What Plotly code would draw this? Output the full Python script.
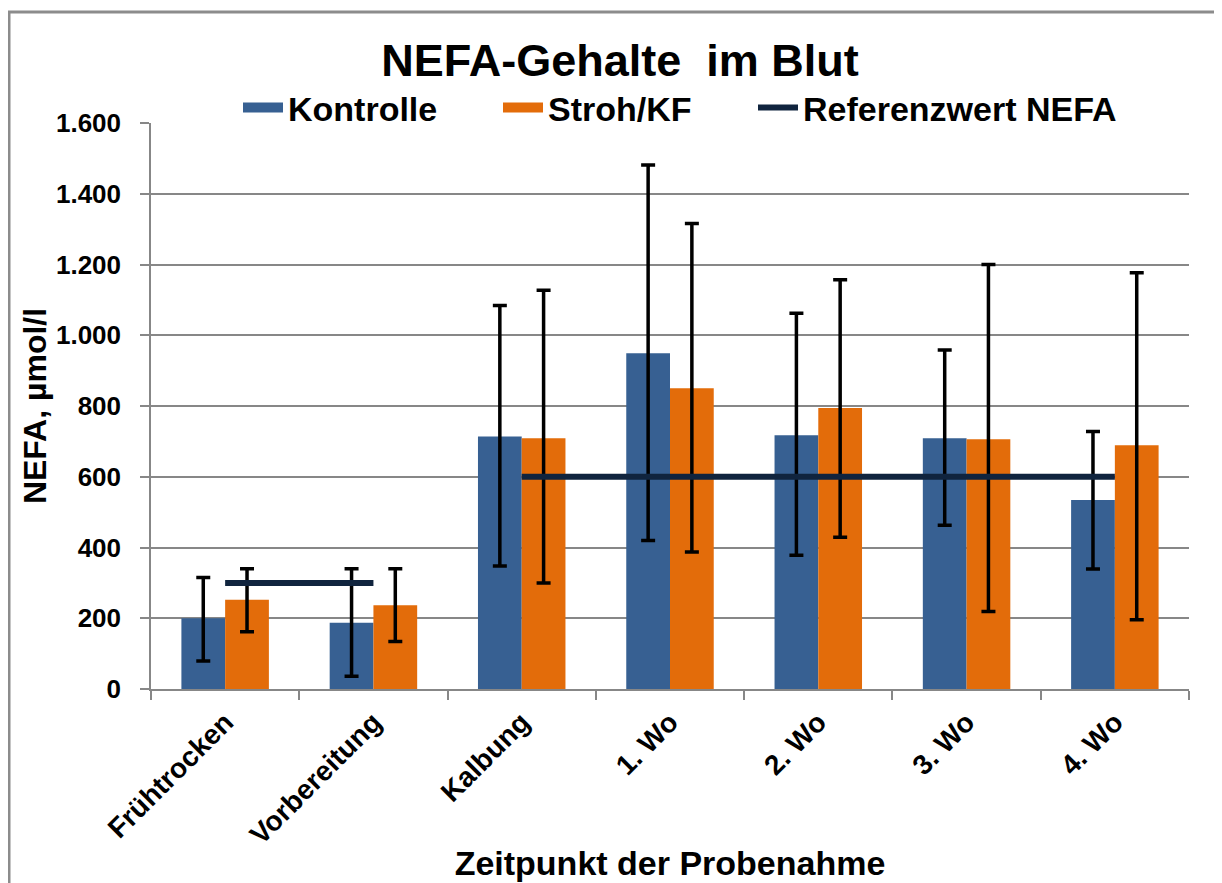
import plotly.graph_objects as go

categories = ["Frühtrocken", "Vorbereitung", "Kalbung", "1. Wo", "2. Wo", "3. Wo", "4. Wo"]
kontrolle = [200, 187, 714, 949, 717, 709, 534]
kontrolle_err_plus = [115, 153, 370, 532, 345, 249, 194]
kontrolle_err_minus = [121, 151, 366, 529, 339, 246, 195]
stroh = [252, 237, 709, 850, 794, 706, 689]
stroh_err_plus = [88, 103, 418, 466, 363, 494, 488]
stroh_err_minus = [90, 103, 409, 463, 365, 487, 493]
referenz = [300, 300, 600, 600, 600, 600, 600]
y_ticks = [0, 200, 400, 600, 800, 1000, 1200, 1400, 1600]

FONT = "Liberation Sans, Arial, sans-serif"
BLUE = "#376092"
ORANGE = "#E36C0A"
NAVY = "#10243E"
GRID = "#878787"

# page offset (browser body margin)
OFF = 8

# build reference line with a gap wherever the level changes
ref_x, ref_y = [], []
for i, (c, v) in enumerate(zip(categories, referenz)):
    if i > 0 and v != referenz[i - 1]:
        ref_x.append(None)
        ref_y.append(None)
    ref_x.append(c)
    ref_y.append(v)

fig = go.Figure()
fig.add_trace(go.Bar(
    name="Kontrolle", x=categories, y=kontrolle, marker_color=BLUE, marker_line_width=0,
    showlegend=False, legendgroup="k",
    error_y=dict(type="data", array=kontrolle_err_plus, arrayminus=kontrolle_err_minus,
                 color="black", thickness=3.5, width=7, symmetric=False),
))
fig.add_trace(go.Bar(
    name="Stroh/KF", x=categories, y=stroh, marker_color=ORANGE, marker_line_width=0,
    showlegend=False, legendgroup="s",
    error_y=dict(type="data", array=stroh_err_plus, arrayminus=stroh_err_minus,
                 color="black", thickness=3.5, width=7, symmetric=False),
))
# legend proxies (wide swatches like the original)
fig.add_trace(go.Scatter(name="Kontrolle", x=[None], y=[None], mode="lines",
                         line=dict(color=BLUE, width=16), legendgroup="k", legendwidth=205))
fig.add_trace(go.Scatter(name="Stroh/KF", x=[None], y=[None], mode="lines",
                         line=dict(color=ORANGE, width=16), legendgroup="s", legendwidth=200))
fig.add_trace(go.Scatter(
    name="Referenzwert NEFA", x=ref_x, y=ref_y, mode="lines",
    line=dict(color=NAVY, width=6), connectgaps=False,
))

W, H = 1222 - OFF, 883 - OFF
L = 151 - OFF
T = 123 - OFF
R = W - (1189 - OFF)
B = H - (689 - OFF)
pw, ph = W - L - R, H - T - B

def px_x(x):
    return (x - OFF - L) / pw

def px_y(y):
    return (H - B - (y - OFF)) / ph

BOLD = "bold"
fig.update_layout(
    width=W, height=H,
    margin=dict(l=L, r=R, t=T, b=B, autoexpand=False),
    paper_bgcolor="white", plot_bgcolor="white",
    separators=",.",
    barmode="group", bargap=0.41, bargroupgap=0,
    font=dict(family=FONT, color="black", weight=BOLD),
    title=dict(text="NEFA-Gehalte  im Blut", x=(620 - OFF) / W, xanchor="center",
               y=1 - (60 - OFF) / H, yanchor="middle", yref="container",
               font=dict(size=45, family=FONT, color="black", weight=BOLD)),
    legend=dict(orientation="h", x=px_x(238), xanchor="left", y=px_y(108), yanchor="middle",
                font=dict(size=34, family=FONT, color="black", weight=BOLD),
                bgcolor="rgba(0,0,0,0)", itemwidth=40, traceorder="normal"),
    xaxis=dict(
        showgrid=False, showline=True, linecolor=GRID, linewidth=1.5,
        ticks="outside", tickson="boundaries", ticklen=9, tickcolor=GRID, tickwidth=1.5,
        tickangle=-45, ticklabelstandoff=4,
        tickfont=dict(size=28, family=FONT, color="black", weight=BOLD),
        title=dict(text="Zeitpunkt der Probenahme", standoff=2,
                   font=dict(size=34, family=FONT, color="black", weight=BOLD)),
        automargin=False,
    ),
    yaxis=dict(
        range=[0, 1600], tickvals=y_ticks, tickformat=",d",
        showgrid=True, gridcolor=GRID, gridwidth=1.5,
        showline=True, linecolor=GRID, linewidth=1.5,
        ticks="outside", ticklen=9, tickcolor=GRID, tickwidth=1.5,
        ticklabelstandoff=14,
        tickfont=dict(size=26, family=FONT, color="black", weight=BOLD),
        title=dict(text="NEFA, µmol/l", standoff=0,
                   font=dict(size=32, family=FONT, color="black", weight=BOLD)),
        automargin=False, zeroline=False,
    ),
    shapes=[dict(type="rect", xref="paper", yref="paper",
                 x0=px_x(9), x1=px_x(1260), y0=px_y(12), y1=px_y(920),
                 line=dict(color="#8C8C8C", width=3), fillcolor="rgba(0,0,0,0)", layer="below")],
)

fig.write_html("out.html")
